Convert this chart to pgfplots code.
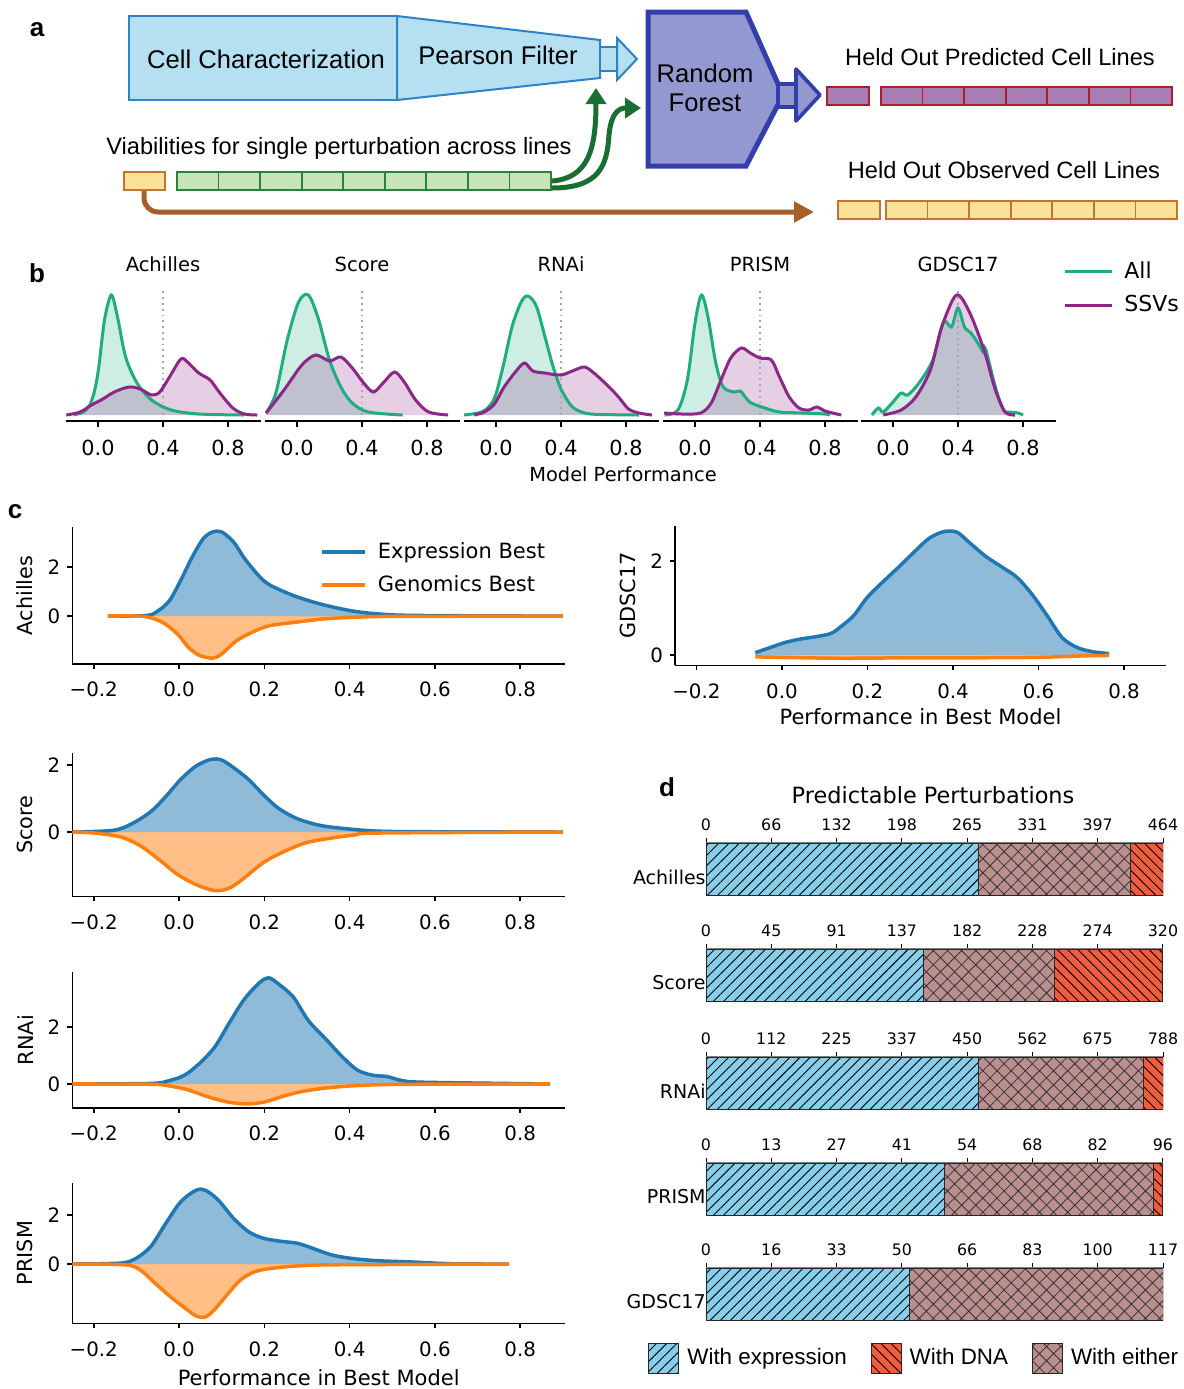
\documentclass[border=0pt]{standalone}
\usepackage{pgfplots}
\pgfplotsset{compat=1.18}
\usepackage{pgfplotstable}
\usepackage{fontspec}
\setmainfont{DejaVu Sans}
\newfontfamily\arial{Liberation Sans}
\usetikzlibrary{patterns.meta,arrows.meta}
\definecolor{cgreen}{RGB}{30,172,128}
\definecolor{cpurple}{RGB}{140,38,135}
\definecolor{cblue}{RGB}{31,119,180}
\definecolor{corange}{RGB}{255,127,14}
\definecolor{skyb}{RGB}{135,206,235}
\definecolor{tomatoc}{RGB}{240,92,62}
\definecolor{rosyb}{RGB}{188,143,143}
\definecolor{afill}{RGB}{180,224,242}
\definecolor{abord}{RGB}{45,130,200}
\definecolor{rffill}{RGB}{148,152,208}
\definecolor{rfbord}{RGB}{52,62,170}
\definecolor{predf}{RGB}{168,126,178}
\definecolor{predb}{RGB}{168,30,42}
\definecolor{obsf}{RGB}{250,226,152}
\definecolor{obsb}{RGB}{190,118,48}
\definecolor{grf}{RGB}{200,228,180}
\definecolor{grb}{RGB}{40,130,60}
\definecolor{garrow}{RGB}{25,110,50}
\definecolor{brownc}{RGB}{165,95,40}
\newcommand{\fs}[1]{\fontsize{#1}{#1}\selectfont}

% ---------- panel b data (x: performance, y: density in plot units) ----------
\pgfplotstableread{
x y
-0.15 0
-0.09 3
-0.05 10
-0.02 25
0.005 48
0.04 95
0.082 120
0.12 98
0.17 58
0.24 32
0.33 15
0.45 5
0.62 1
0.9 0
}\bAchAll
\pgfplotstableread{
x y
-0.195 0
-0.11 3
-0.04 10
0.03 16
0.10 23
0.19 28
0.26 26
0.33 20
0.38 23
0.44 38
0.51 56
0.55 53
0.62 42
0.69 35
0.75 22
0.83 7
0.9 1
0.98 0
}\bAchSSV
\pgfplotstableread{
x y
-0.19 2
-0.13 22
-0.06 75
0.01 113
0.07 120
0.13 97
0.20 55
0.27 28
0.34 12
0.44 3
0.65 0
}\bScoAll
\pgfplotstableread{
x y
-0.19 2
-0.08 25
0.03 50
0.115 60
0.2 54
0.27 58
0.34 47
0.41 32
0.47 23
0.53 32
0.60 43
0.66 33
0.73 15
0.81 3
0.93 0
}\bScoSSV
\pgfplotstableread{
x y
-0.196 0
-0.093 2.7
-0.04 9
0.0 21
0.05 53
0.10 89
0.155 113
0.196 119
0.248 109
0.30 79
0.35 49
0.40 26
0.465 9
0.527 3
0.61 0.7
0.88 0
}\bRnaAll
\pgfplotstableread{
x y
-0.134 0
-0.072 3
-0.01 11
0.05 28
0.124 44
0.176 52
0.227 44
0.30 42
0.40 40
0.485 45
0.547 48
0.61 41
0.69 29
0.754 18
0.816 6
0.88 2
0.96 0
}\bRnaSSV
\pgfplotstableread{
x y
-0.186 0
-0.105 5
-0.047 35
0.0 92
0.04 120
0.08 98
0.128 52
0.174 28
0.244 23
0.28 24
0.337 13
0.43 7
0.52 3
0.66 2
0.80 1
0.83 0
}\bPriAll
\pgfplotstableread{
x y
-0.19 2
-0.08 1
0.035 2
0.1 12
0.16 35
0.22 57
0.285 67
0.34 62
0.4 57
0.47 55
0.52 38
0.58 18
0.64 7
0.7 5
0.75 8
0.8 4
0.9 0
}\bPriSSV
\pgfplotstableread{
x y
-0.13 0
-0.09 7
-0.06 3
0.0 13
0.05 22
0.09 20
0.16 32
0.245 55
0.31 93
0.36 88
0.4 107
0.44 88
0.48 82
0.53 70
0.555 63
0.57 66
0.63 28
0.68 5
0.72 3
0.77 2
0.80 0
}\bGdsAll
\pgfplotstableread{
x y
-0.06 0
0.05 5
0.14 18
0.23 45
0.30 88
0.39 120
0.47 103
0.56 65
0.63 25
0.69 3
0.75 0
}\bGdsSSV

% ---------- panel c data ----------
\pgfplotstableread{
x y
-0.167 0
-0.075 0.03
-0.048 0.23
-0.022 0.64
0.004 1.46
0.031 2.41
0.057 3.16
0.079 3.43
0.10 3.43
0.128 3.02
0.154 2.34
0.19 1.59
0.215 1.25
0.268 0.84
0.33 0.50
0.40 0.23
0.46 0.10
0.55 0.03
0.90 0
}\cAchExp
\pgfplotstableread{
x y
-0.167 0
-0.084 -0.01
-0.04 -0.24
-0.004 -0.72
0.022 -1.27
0.048 -1.60
0.079 -1.71
0.10 -1.54
0.136 -0.99
0.18 -0.59
0.215 -0.38
0.277 -0.24
0.34 -0.11
0.42 -0.04
0.51 -0.01
0.90 0
}\cAchGen
\pgfplotstableread{
x y
-0.062 0.05
-0.027 0.16
0.009 0.27
0.044 0.34
0.08 0.39
0.115 0.46
0.14 0.62
0.168 0.84
0.20 1.23
0.24 1.59
0.274 1.88
0.31 2.20
0.345 2.49
0.38 2.63
0.41 2.61
0.44 2.38
0.478 2.09
0.513 1.88
0.55 1.65
0.584 1.30
0.62 0.84
0.655 0.37
0.69 0.16
0.726 0.07
0.765 0.03
}\cGdsExp
\pgfplotstableread{
x y
-0.062 -0.04
0.05 -0.06
0.15 -0.07
0.30 -0.06
0.45 -0.06
0.60 -0.05
0.70 -0.02
0.765 -0.01
}\cGdsGen
\pgfplotstableread{
x y
-0.25 0
-0.154 0.05
-0.11 0.25
-0.066 0.61
-0.031 1.06
0.004 1.57
0.04 1.97
0.075 2.17
0.10 2.15
0.128 1.92
0.163 1.57
0.198 1.11
0.233 0.71
0.277 0.40
0.33 0.20
0.39 0.10
0.46 0.03
0.55 0.01
0.90 0
}\cScoExp
\pgfplotstableread{
x y
-0.25 0
-0.198 -0.03
-0.136 -0.15
-0.092 -0.40
-0.048 -0.81
-0.004 -1.26
0.04 -1.57
0.084 -1.75
0.119 -1.67
0.154 -1.36
0.198 -0.91
0.242 -0.61
0.295 -0.33
0.347 -0.20
0.41 -0.09
0.47 -0.03
0.90 0
}\cScoGen
\pgfplotstableread{
x y
-0.25 0
-0.066 0.02
-0.022 0.12
0.013 0.31
0.048 0.72
0.084 1.30
0.119 2.17
0.154 2.99
0.19 3.57
0.211 3.72
0.233 3.51
0.268 3.05
0.303 2.23
0.347 1.53
0.383 0.95
0.418 0.49
0.453 0.31
0.488 0.26
0.523 0.12
0.576 0.06
0.87 0
}\cRnaExp
\pgfplotstableread{
x y
-0.25 0
-0.066 -0.01
-0.022 -0.07
0.022 -0.21
0.066 -0.44
0.11 -0.62
0.154 -0.70
0.198 -0.64
0.242 -0.44
0.286 -0.27
0.339 -0.15
0.40 -0.07
0.46 -0.03
0.55 -0.01
0.87 0
}\cRnaGen
\pgfplotstableread{
x y
-0.25 0
-0.136 0.04
-0.10 0.24
-0.066 0.72
-0.031 1.66
0.004 2.54
0.04 3.01
0.062 3.01
0.092 2.61
0.128 1.86
0.163 1.32
0.198 1.05
0.242 0.92
0.277 0.85
0.312 0.65
0.356 0.38
0.40 0.24
0.46 0.14
0.55 0.08
0.64 0.01
0.774 0
}\cPriExp
\pgfplotstableread{
x y
-0.25 0
-0.128 -0.03
-0.092 -0.23
-0.057 -0.77
-0.022 -1.31
0.013 -1.78
0.04 -2.12
0.062 -2.16
0.084 -1.85
0.11 -1.31
0.145 -0.64
0.18 -0.30
0.224 -0.16
0.286 -0.07
0.374 -0.03
0.774 0
}\cPriGen

\pgfplotsset{
  densb/.style={scale only axis, width=97.5pt, height=67pt,
    xmin=-0.2, xmax=1.0, ymin=-6, ymax=128,
    axis x line*=bottom, axis y line=none, x axis line style={-, line width=0.8pt},
    xtick={0,0.4,0.8}, xticklabels={0.0,0.4,0.8},
    tick align=outside, major tick length=3pt,
    xtick style={black, line width=0.8pt},
    xticklabel style={font=\fs{10.4}, yshift=-3pt}, anchor=south west},
  fillG/.style={draw=none, fill=cgreen, fill opacity=0.22, smooth, forget plot},
  fillP/.style={draw=none, fill=cpurple, fill opacity=0.22, smooth, forget plot},
  lineG/.style={cgreen, line width=1.5pt, smooth},
  lineP/.style={cpurple, line width=1.5pt, smooth},
  vdot/.style={gray!70, dotted, line width=0.9pt, forget plot},
  densc/.style={scale only axis, width=246.3pt, xmin=-0.25, xmax=0.905,
    axis x line*=bottom, axis y line*=left,
    x axis line style={-, line width=0.8pt}, y axis line style={-, line width=0.8pt},
    xtick={-0.2,0,0.2,0.4,0.6,0.8}, xticklabels={−0.2,0.0,0.2,0.4,0.6,0.8},
    ytick={0,2}, yticklabels={0,2},
    tick align=outside, major tick length=2.5pt, tick style={black, line width=0.8pt},
    ticklabel style={font=\fs{9.9}}, xticklabel style={yshift=-3pt},
    ylabel style={at={(axis description cs:-0.096,0.5)}, anchor=center, font=\fs{10.4}},
    anchor=south west},
  fillB/.style={draw=none, fill=cblue, fill opacity=0.5, smooth, forget plot},
  fillO/.style={draw=none, fill=corange, fill opacity=0.5, smooth, forget plot},
  lineB/.style={cblue, line width=1.75pt, smooth},
  lineO/.style={corange, line width=1.75pt, smooth},
  barsd/.style={scale only axis, width=228.5pt, height=26pt, xbar stacked, bar width=26pt,
    ymin=-0.5, ymax=0.5, xmin=0, enlargelimits=false,
    axis x line*=top, axis y line*=left, y axis line style={draw=none}, ytick={0},
    ytick style={draw=none}, x axis line style={-, gray, line width=1pt},
    tick align=outside, major tick length=2.5pt, xtick style={black, line width=0.5pt},
    xticklabel style={font=\fs{7.9}}, yticklabel style={font=\fs{9.5}, yshift=-4pt, xshift=3.5pt, inner sep=1pt},
    anchor=south west},
  expr/.style={fill=skyb, draw=black!85, line width=0.5pt,
    postaction={pattern color=black, pattern={Lines[angle=45,distance=3.6pt,line width=0.45pt]}}},
  either/.style={fill=rosyb, draw=black!85, line width=0.5pt,
    postaction={pattern color=black!80, pattern={Hatch[angle=45,distance=5pt,line width=0.4pt]}}},
  dna/.style={fill=tomatoc, draw=black!85, line width=0.5pt,
    postaction={pattern color=black, pattern={Lines[angle=-45,distance=3.6pt,line width=0.45pt]}}},
}

\begin{document}
\begin{tikzpicture}
\path[use as bounding box] (0,0) rectangle (592pt,-694.5pt);

% ===================== panel a =====================
\begin{scope}[x=0.5pt,y=-0.5pt]
\node[font=\arial\bfseries\fs{13}] at (37,30) {a};
\draw[draw=abord, fill=afill, line width=1pt] (129,16) rectangle (397,100);
\draw[draw=abord, fill=afill, line width=1pt] (397,16) -- (600,40) -- (600,78) -- (397,100) -- cycle;
\draw[draw=abord, fill=afill, line width=1pt] (600,47) rectangle (617,71);
\draw[draw=abord, fill=afill, line width=1pt] (617,38) -- (637,59) -- (617,80) -- cycle;
\node[font=\arial\fs{12.8}] at (266,59) {Cell Characterization};
\node[font=\arial\fs{12.8}] at (498,55) {Pearson Filter};
\draw[draw=rfbord, fill=rffill, line width=2.5pt] (648,12) -- (746,12) -- (783,95) -- (746,166) -- (648,166) -- cycle;
\draw[draw=rfbord, fill=rffill, line width=1.8pt] (778,84) rectangle (796,107);
\draw[draw=rfbord, fill=rffill, line width=1.8pt, line join=round] (796,69) -- (820,95) -- (796,121) -- cycle;
\node[font=\arial\fs{12.8}] at (705,73) {Random};
\node[font=\arial\fs{12.8}] at (705,103) {Forest};
\node[font=\arial\fs{11.8}] at (1000,57) {Held Out Predicted Cell Lines};
\draw[draw=predb, fill=predf, line width=0.9pt] (827,87) rectangle (869,105);
\foreach \i in {0,...,6} \draw[draw=predb, fill=predf, line width=0.9pt] ({881+\i*41.57},87) rectangle ({881+(\i+1)*41.57},105);
\node[font=\arial\fs{11.8}] at (1004,170) {Held Out Observed Cell Lines};
\draw[draw=obsb, fill=obsf, line width=0.9pt] (838,201) rectangle (880,219);
\foreach \i in {0,...,6} \draw[draw=obsb, fill=obsf, line width=0.9pt] ({886+\i*41.57},201) rectangle ({886+(\i+1)*41.57},219);
\node[font=\arial\fs{11.8}] at (339,148) {Viabilities for single perturbation across lines};
\draw[brownc, line width=2.5pt, rounded corners=7pt, -{Triangle[length=10pt,width=10pt]}] (144,190) -- (144,212) -- (814,212);
\draw[draw=obsb, fill=obsf, line width=0.9pt] (124,172) rectangle (165,190);
\foreach \i in {0,...,8} \draw[draw=grb, fill=grf, line width=0.9pt] ({177+\i*41.55},172) rectangle ({177+(\i+1)*41.55},190);
\draw[garrow, line width=2.5pt, -{Triangle[length=8pt,width=10pt]}] (552,181) .. controls (588,178) and (596,150) .. (596,88);
\draw[garrow, line width=2.5pt, -{Triangle[length=8pt,width=10pt]}] (552,188) .. controls (600,188) and (607,165) .. (609,135) .. controls (611,114) and (618,108) .. (641,108);
% panel labels and texts
\node[font=\arial\bfseries\fs{13}] at (37,273) {b};
\node[font=\fs{9.75}] at (163,264) {Achilles};
\node[font=\fs{9.75}] at (362,264) {Score};
\node[font=\fs{9.75}] at (561,264) {RNAi};
\node[font=\fs{9.75}] at (760,264) {PRISM};
\node[font=\fs{9.75}] at (958,264) {GDSC17};
\node[font=\fs{9.7}] at (623,474) {Model Performance};
\node[font=\arial\bfseries\fs{13}] at (15,512) {c};
\node[font=\arial\bfseries\fs{13}] at (667,787) {d};
\node[font=\fs{11.2}] at (933,795) {Predictable Perturbations};
\end{scope}

% ===================== panel b =====================
\begin{axis}[densb, at={(32.75pt,-210.5pt)}]
\addplot[fillG] table {\bAchAll} \closedcycle;
\addplot[fillP] table {\bAchSSV} \closedcycle;
\addplot[vdot] coordinates {(0.4,0) (0.4,124)};
\addplot[lineG] table {\bAchAll};
\addplot[lineP] table {\bAchSSV};
\end{axis}
\begin{axis}[densb, at={(132.25pt,-210.5pt)}]
\addplot[fillG] table {\bScoAll} \closedcycle;
\addplot[fillP] table {\bScoSSV} \closedcycle;
\addplot[vdot] coordinates {(0.4,0) (0.4,124)};
\addplot[lineG] table {\bScoAll};
\addplot[lineP] table {\bScoSSV};
\end{axis}
\begin{axis}[densb, at={(231.75pt,-210.5pt)}]
\addplot[fillG] table {\bRnaAll} \closedcycle;
\addplot[fillP] table {\bRnaSSV} \closedcycle;
\addplot[vdot] coordinates {(0.4,0) (0.4,124)};
\addplot[lineG] table {\bRnaAll};
\addplot[lineP] table {\bRnaSSV};
\end{axis}
\begin{axis}[densb, at={(331.25pt,-210.5pt)}]
\addplot[fillG] table {\bPriAll} \closedcycle;
\addplot[fillP] table {\bPriSSV} \closedcycle;
\addplot[vdot] coordinates {(0.4,0) (0.4,124)};
\addplot[lineG] table {\bPriAll};
\addplot[lineP] table {\bPriSSV};
\end{axis}
\begin{axis}[densb, at={(430.25pt,-210.5pt)},
  legend style={at={(axis description cs:1.0385,0.99)}, anchor=west, draw=none, fill=none,
    inner sep=0pt, font=\fs{11}, row sep=3pt,
    /tikz/every odd column/.append style={column sep=3.5pt}},
  legend cell align=left,
  legend image code/.code={\draw[#1] (0pt,0pt) -- (23.5pt,0pt);}]
\addplot[fillG] table {\bGdsAll} \closedcycle;
\addplot[fillP] table {\bGdsSSV} \closedcycle;
\addplot[vdot] coordinates {(0.4,0) (0.4,124)};
\addplot[lineG] table {\bGdsAll};
\addlegendentry{All}
\addplot[lineP] table {\bGdsSSV};
\addlegendentry{SSVs}
\end{axis}

% ===================== panel c =====================
\begin{axis}[densc, at={(36.2pt,-332pt)}, height=68.5pt, ymin=-1.95, ymax=3.63, ylabel={Achilles},
  legend style={at={(axis description cs:0.5026,0.697)}, anchor=west, draw=none, fill=none,
    inner sep=0pt, font=\fs{10.5}, row sep=3pt,
    /tikz/every odd column/.append style={column sep=3.5pt}},
  legend cell align=left,
  legend image code/.code={\draw[#1] (0pt,0pt) -- (21.5pt,0pt);}]
\addplot[fillB] table {\cAchExp} \closedcycle;
\addplot[fillO] table {\cAchGen} \closedcycle;
\addplot[lineB] table {\cAchExp};
\addlegendentry{Expression Best}
\addplot[lineO] table {\cAchGen};
\addlegendentry{Genomics Best}
\end{axis}
\begin{axis}[densc, at={(337.5pt,-332.65pt)}, width=245.5pt, xmax=0.898, height=69.75pt, ymin=-0.22, ymax=2.75,
  ylabel={GDSC17}, xlabel={Performance in Best Model},
  xlabel style={at={(axis description cs:0.5,0)}, anchor=center, yshift=-25.9pt, font=\fs{10.5}}]
\addplot[fillB] table {\cGdsExp} \closedcycle;
\addplot[fillO] table {\cGdsGen} \closedcycle;
\addplot[lineB] table {\cGdsExp};
\addplot[lineO] table {\cGdsGen};
\end{axis}
\begin{axis}[densc, at={(36.2pt,-448.15pt)}, height=71.5pt, ymin=-1.92, ymax=2.35, ylabel={Score}]
\addplot[fillB] table {\cScoExp} \closedcycle;
\addplot[fillO] table {\cScoGen} \closedcycle;
\addplot[lineB] table {\cScoExp};
\addplot[lineO] table {\cScoGen};
\end{axis}
\begin{axis}[densc, at={(36.2pt,-554.1pt)}, height=68pt, ymin=-0.85, ymax=3.92, ylabel={RNAi}]
\addplot[fillB] table {\cRnaExp} \closedcycle;
\addplot[fillO] table {\cRnaGen} \closedcycle;
\addplot[lineB] table {\cRnaExp};
\addplot[lineO] table {\cRnaGen};
\end{axis}
\begin{axis}[densc, at={(36.2pt,-661.65pt)}, height=70.2pt, ymin=-2.42, ymax=3.31, ylabel={PRISM},
  xlabel={Performance in Best Model},
  xlabel style={at={(axis description cs:0.5,0)}, anchor=center, yshift=-27pt, font=\fs{10.5}}]
\addplot[fillB] table {\cPriExp} \closedcycle;
\addplot[fillO] table {\cPriGen} \closedcycle;
\addplot[lineB] table {\cPriExp};
\addplot[lineO] table {\cPriGen};
\end{axis}

% ===================== panel d =====================
\begin{axis}[barsd, at={(353pt,-447.5pt)}, xmax=464,
  xtick={0,66.2857,132.5714,198.8571,265.1429,331.4286,397.7143,464},
  xticklabels={0,66,132,198,265,331,397,464}, yticklabels={Achilles}]
\addplot[expr] coordinates {(277,0)};
\addplot[either] coordinates {(154,0)};
\addplot[dna] coordinates {(33,0)};
\end{axis}
\begin{axis}[barsd, at={(353pt,-500.5pt)}, xmax=320,
  xtick={0,45.7143,91.4286,137.1429,182.8571,228.5714,274.2857,320},
  xticklabels={0,45,91,137,182,228,274,320}, yticklabels={Score}]
\addplot[expr] coordinates {(152,0)};
\addplot[either] coordinates {(92,0)};
\addplot[dna] coordinates {(76,0)};
\end{axis}
\begin{axis}[barsd, at={(353pt,-554.5pt)}, xmax=788,
  xtick={0,112.5714,225.1429,337.7143,450.2857,562.8571,675.4286,788},
  xticklabels={0,112,225,337,450,562,675,788}, yticklabels={RNAi}]
\addplot[expr] coordinates {(470,0)};
\addplot[either] coordinates {(285,0)};
\addplot[dna] coordinates {(33,0)};
\end{axis}
\begin{axis}[barsd, at={(353pt,-607.5pt)}, xmax=96,
  xtick={0,13.7143,27.4286,41.1429,54.8571,68.5714,82.2857,96},
  xticklabels={0,13,27,41,54,68,82,96}, yticklabels={PRISM}]
\addplot[expr] coordinates {(50,0)};
\addplot[either] coordinates {(44,0)};
\addplot[dna] coordinates {(2,0)};
\end{axis}
\begin{axis}[barsd, at={(353pt,-660pt)}, xmax=117,
  xtick={0,16.7143,33.4286,50.1429,66.8571,83.5714,100.2857,117},
  xticklabels={0,16,33,50,66,83,100,117}, yticklabels={GDSC17}]
\addplot[expr] coordinates {(52,0)};
\addplot[either] coordinates {(65,0)};
\end{axis}
% legend of panel d
\begin{axis}[hide axis, scale only axis, width=10pt, height=10pt, xmin=0, xmax=1, ymin=0, ymax=1,
  at={(324pt,-679pt)}, anchor=west,
  legend columns=3,
  legend style={at={(axis description cs:0,0.5)}, anchor=west, draw=none, fill=none, inner sep=0pt,
    font=\arial\fs{11.2}, /tikz/every odd column/.append style={column sep=2pt},
    /tikz/every even column/.append style={column sep=10pt}},
  legend image code/.code={\draw[#1] (0pt,-7.5pt) rectangle (15pt,7.5pt);}]
\addlegendimage{expr}
\addlegendentry{With expression}
\addlegendimage{dna}
\addlegendentry{With DNA}
\addlegendimage{either}
\addlegendentry{With either}
\end{axis}
\end{tikzpicture}
\end{document}
